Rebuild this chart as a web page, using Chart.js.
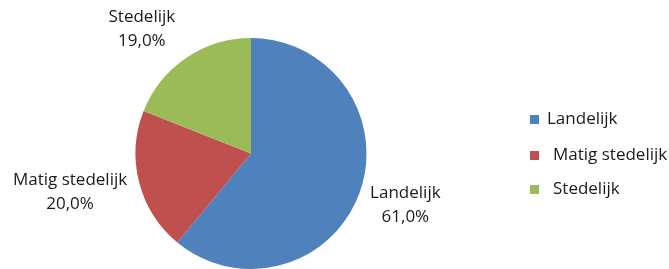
<!DOCTYPE html>
<html>
<head>
<meta charset="utf-8">
<script src="https://cdn.jsdelivr.net/npm/chart.js@4/dist/chart.umd.min.js"></script>
<style>
  html, body { margin: 0; padding: 0; background: #fff; }
  #wrap { width: 669px; height: 269px; position: relative; }
</style>
</head>
<body>
<div id="wrap"><canvas id="pieChart"></canvas></div>
<script>
const categories = ["Landelijk", "Matig stedelijk", "Stedelijk"];
const shares = [61.0, 20.0, 19.0];
const colors = ["#4F81BD", "#C0504D", "#9BBB59"];

// small per-label shifts, like Excel's "best fit" placement
const labelNudge = [[5, 2], [-6, 2], [-21, -2]];
const FONT = "17px 'Open Sans', Lato, sans-serif";

const pieLabels = {
    id: "pieLabels",
    afterDraw(chart) {
        const ctx = chart.ctx;
        const arcs = chart.getDatasetMeta(0).data;
        ctx.save();
        ctx.font = FONT;
        ctx.fillStyle = "#1a1a1a";
        ctx.textAlign = "center";
        ctx.textBaseline = "middle";
        arcs.forEach((arc, i) => {
            const a = (arc.startAngle + arc.endAngle) / 2;
            const r = arc.outerRadius + 8;
            const line2 = shares[i].toFixed(1).replace(".", ",") + "%";
            const w = Math.max(ctx.measureText(categories[i]).width, ctx.measureText(line2).width);
            const h = 48;
            const x = arc.x + Math.cos(a) * (r + w / 2) + labelNudge[i][0];
            const y = arc.y + Math.sin(a) * (r + h / 2) + labelNudge[i][1];
            ctx.fillText(categories[i], x, y - 12);
            ctx.fillText(line2, x, y + 12);
        });

        // legend on the right
        const lx = 530, ly = [119, 155, 189];
        const tx = [547, 553, 553];
        categories.forEach((c, i) => {
            ctx.fillStyle = colors[i];
            ctx.fillRect(lx, ly[i] - 4, 9, 9);
            ctx.fillStyle = "#1a1a1a";
            ctx.textAlign = "left";
            ctx.fillText(c, tx[i], ly[i]);
        });
        ctx.restore();
    }
};

new Chart(document.getElementById("pieChart"), {
    type: "pie",
    data: {
        labels: categories,
        datasets: [{
            data: shares,
            backgroundColor: colors,
            borderWidth: 0
        }]
    },
    options: {
        responsive: true,
        maintainAspectRatio: false,
        animation: false,
        layout: { padding: { top: 38, bottom: 0, left: 0, right: 167 } },
        plugins: {
            legend: { display: false },
            tooltip: { enabled: false }
        }
    },
    plugins: [pieLabels]
});
</script>
</body>
</html>
